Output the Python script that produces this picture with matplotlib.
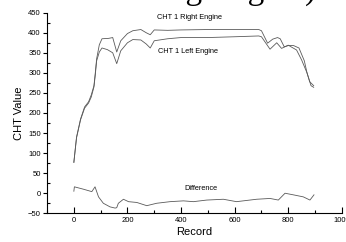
import matplotlib
matplotlib.use("Agg")
import matplotlib.pyplot as plt
from matplotlib.ticker import MultipleLocator

# CHT 1 readings per record
right_x = [0, 10, 25, 40, 55, 65, 75, 80, 85, 95, 105, 130, 145, 160, 175, 200,
           220, 250, 270, 285, 300, 350, 400, 500, 600, 690, 700, 723, 742, 760,
           770, 785, 800, 820, 840, 860, 870, 880, 895]
right_y = [77, 140, 185, 215, 228, 245, 268, 300, 335, 370, 385, 386, 388, 352, 380, 398,
           405, 408, 400, 395, 407, 406, 407, 408, 408, 408, 405, 374, 384, 388,
           385, 365, 368, 368, 362, 330, 300, 278, 268]

left_x = [0, 10, 25, 40, 55, 65, 75, 80, 85, 95, 105, 125, 145, 160, 175, 200,
          220, 250, 270, 285, 300, 350, 400, 500, 600, 690, 700, 732, 757, 775,
          800, 831, 850, 870, 885, 895]
left_y = [77, 138, 183, 212, 225, 240, 265, 295, 330, 352, 362, 358, 350, 323, 355, 375,
          383, 382, 372, 362, 380, 385, 388, 388, 390, 392, 390, 359, 375, 361,
          369, 357, 332, 300, 268, 264]

diff_x = [0, 2, 36, 67, 79, 92, 110, 135, 154, 160, 166, 185, 204, 235, 272, 309,
          359, 409, 446, 496, 558, 607, 682, 732, 763, 788, 819, 856, 881, 896]
diff_y = [5, 16, 10, 4, 16, -9, -25, -34, -37, -36, -25, -15, -21, -23, -31, -25,
          -21, -19, -21, -17, -15, -21, -15, -13, -17, 0, -4, -9, -17, -4]

LINE = "#5a5a5a"
plt.rcParams["font.family"] = ["Liberation Sans", "DejaVu Sans"]

fig = plt.figure(figsize=(3.46, 2.42), dpi=100)
ax = fig.add_axes([0.136, 0.1186, 0.852, 0.829])

ax.plot(right_x, right_y, color=LINE, lw=0.6)
ax.plot(left_x, left_y, color=LINE, lw=0.6)
ax.plot(diff_x, diff_y, color=LINE, lw=0.6)

ax.set_xlim(-100, 1000)
ax.set_ylim(-50, 450)
ax.set_xticks([0, 200, 400, 600, 800, 1000])
ax.xaxis.set_minor_locator(MultipleLocator(100))
ax.yaxis.set_major_locator(MultipleLocator(50))
ax.yaxis.set_minor_locator(MultipleLocator(25))
ax.tick_params(axis="x", which="major", direction="in", length=4, width=0.8, labelsize=5.5, pad=3)
ax.tick_params(axis="x", which="minor", direction="in", length=2, width=0.8)
ax.tick_params(axis="y", which="major", direction="out", length=3, width=0.8, labelsize=5.5, pad=1.5)
ax.tick_params(axis="y", which="minor", direction="in", length=2, width=0.8)

for s in ("top", "right"):
    ax.spines[s].set_visible(False)
for s in ("left", "bottom"):
    ax.spines[s].set_linewidth(0.8)

ax.set_xlabel("Record", fontsize=8, labelpad=2)
ax.set_ylabel("CHT Value", fontsize=8, labelpad=3)

ax.text(433, 437, "CHT 1 Right Engine", fontsize=5.3, ha="center", va="center")
ax.text(427, 353, "CHT 1 Left Engine", fontsize=5.3, ha="center", va="center")
ax.text(475, 13, "Difference", fontsize=5.3, ha="center", va="center")

# remnant of a slide title cut off at the top
fig.text(316 / 346, 243 / 242, "Monitoring Engine)", fontsize=24,
         family="Liberation Serif", ha="right", va="baseline")

fig.savefig("out.png", dpi=100)
